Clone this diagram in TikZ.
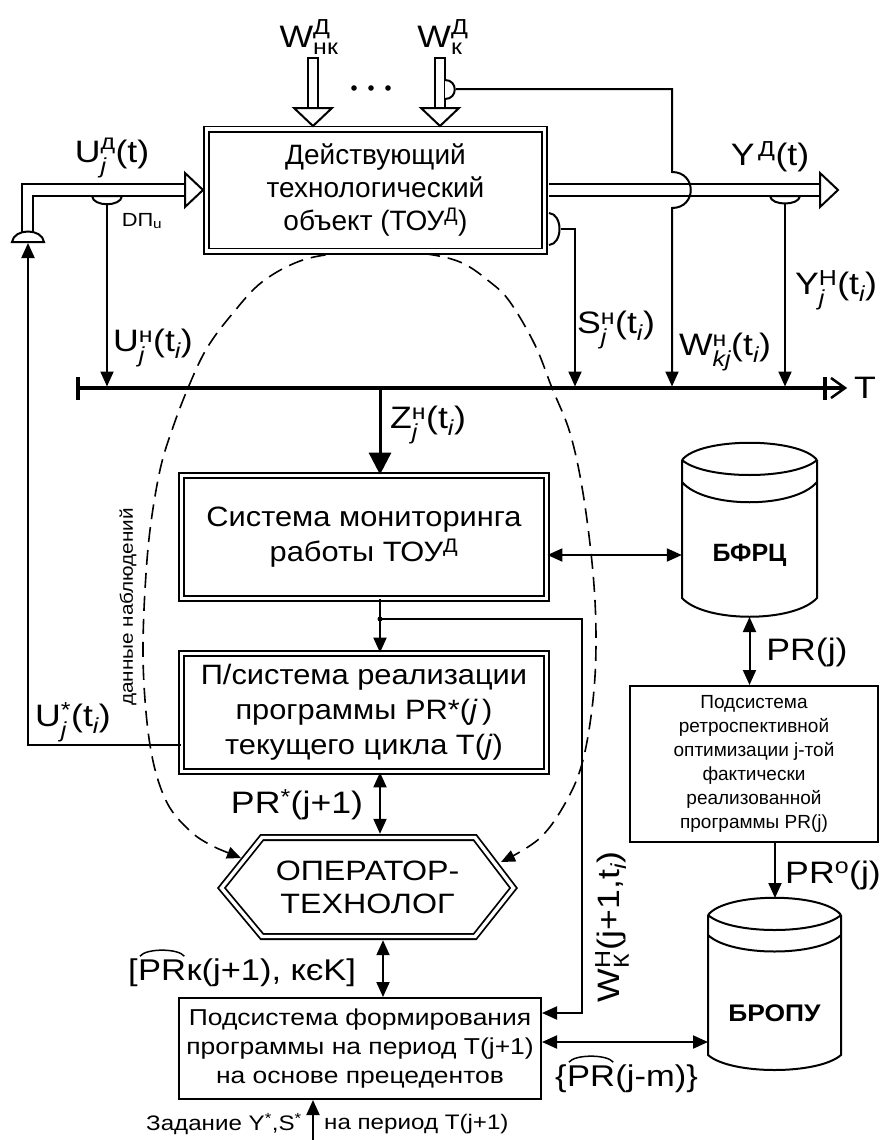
\documentclass[tikz,border=0pt]{standalone}
\usepackage{amsmath}
\usepackage{fontspec}
\setmainfont{Liberation Sans}
\newfontfamily\wA{Liberation Sans}[FakeStretch=1.1]
\newfontfamily\wB{Liberation Sans}[FakeStretch=1.15]
\usetikzlibrary{arrows.meta,calc}
\newcommand\fs[2]{\fontsize{#1}{#2}\selectfont}
\newcommand\SupSub[2]{\ensuremath{^{\text{#1}}_{\text{#2}}}}
\begin{document}
\begin{tikzpicture}[x=1pt,y=-1pt,
  dbox/.style={draw, double, double distance=3.4pt, line width=1.8pt, fill=white, align=center, inner sep=0pt, font=\wA\fs{28}{35}},
  sbox/.style={draw, line width=2pt, fill=white, align=center, inner sep=0pt},
  ln/.style={line width=2pt},
  arr/.style={ln, -{Triangle[length=15pt,width=13pt]}},
  darr/.style={ln, {Triangle[length=15pt,width=13pt]}-{Triangle[length=15pt,width=13pt]}},
  lbl/.style={inner sep=0pt, font=\wB\fs{31}{35}},
  slbl/.style={inner sep=0pt, font=\wB\fs{21}{24}},
  sens/.style={ln, fill=white},
  hatarc/.style={line width=1.5pt}
]
\useasboundingbox (0,0) rectangle (882,1140);

% ---- axis T
\coordinate (Ta) at (78,388);
\coordinate (Tb) at (845,388);
\draw[line width=3.5pt] (Ta) -- (843,388);
\draw[line width=4pt] (78,377) -- (78,400);
\draw[line width=3.5pt] (825,377) -- (825,400);
\draw[line width=2.5pt, line join=miter] (831,378) -- (Tb) -- (831,398);
\node[lbl] (lT) at (865,388) {T};

% ---- hexagon
\draw[double, double distance=3.4pt, line width=1.8pt, fill=white, line join=miter]
  (262,837.5) -- (475,837.5) -- (513.5,888) -- (475,936.5) -- (262,936.5) -- (221.5,888) -- cycle;
\node[font=\wB\fs{28}{33}, minimum height=106pt, minimum width=200pt, inner sep=0pt, align=center] (hex) at (367.5,887) {ОПЕРАТОР-\\ТЕХНОЛОГ};

% ---- dashed observation loop
\draw[line width=1.6pt, dash pattern=on 15pt off 8pt, {Triangle[length=14pt,width=12pt]}-{Triangle[length=14pt,width=12pt]}]
  plot[smooth, tension=0.6] coordinates {(241,858) (207,843) (188,829) (170,808) (158,780) (150,745) (145,700) (143,650) (145,590) (150,530) (160,470) (172,430) (188,388) (207,348) (233,313) (262,282) (300,261) (340,253) (378,251) (420,253) (460,262) (490,282) (510,302) (535,345) (552,388) (570,433) (583,493) (593,573) (596,640) (593,700) (583,760) (567,800) (540,838) (501,862)};

% ---- main object
\node[dbox, font=\fs{28}{33}, minimum width=338pt, minimum height=122pt] (obj) at (375.5,190) {Действующий\\технологический\\объект (ТОУ\textsuperscript{Д})};

% disturbance inputs
\draw[ln, fill=white] (308,109) -- (308,58) -- (318,58) -- (318,109);
\draw[ln, fill=white, line join=miter] (294,108) -- (332,108) -- (313,126) -- cycle;
\draw[ln, fill=white] (435,109) -- (435,58) -- (445,58) -- (445,109);
\draw[ln, fill=white, line join=miter] (421,108) -- (459,108) -- (440,126) -- cycle;
\node[lbl] (lWnk) at (309,37) {W\SupSub{Д}{нк}};
\node[lbl] (lWk) at (443,37) {W\SupSub{Д}{к}};
\fill (354,88) circle (2.8) (371,88) circle (2.8) (388,88) circle (2.8);

% W_k sensor and measurement line
\draw[sens] (445,80) .. controls (458,80) and (458,99) .. (445,99);
\coordinate (wks) at (456,89);
\coordinate (wkc) at (672,89);

% U input double line
\draw[ln] (22,233) -- (22,184) -- (186,184);
\draw[ln] (33,233) -- (33,196) -- (186,196);
\draw[ln, fill=white, line join=miter] (185,173) -- (203,190) -- (185,207) -- cycle;
\draw[sens] (12,242) .. controls (14,228) and (42,228) .. (44,242) -- cycle;
\coordinate (us) at (28,243);
\draw[sens] (92,196) .. controls (93,207) and (121,207) .. (122,196) -- cycle;
\coordinate (dpu) at (107,204);
\node[lbl] (lUd) at (112,158) {U\SupSub{д}{\itshape j}(t)};
\node[inner sep=0pt, font=\wB\fs{19}{22}] (ldp) at (142,221) {DП\textsubscript{u}};

% Y output double line
\draw[ln] (549,184) -- (821,184);
\draw[ln] (549,196) -- (821,196);
\draw[ln, fill=white, line join=miter] (820,173) -- (838,190) -- (820,207) -- cycle;
\draw[sens] (770,196) .. controls (771,206) and (799,206) .. (800,196) -- cycle;
\coordinate (ys) at (785,204);
\node[lbl] (lYd) at (770,157) {Y\textsuperscript{\,Д}(t)};

% W line with bridge over Y
\draw[arr, shorten >=1.5pt] (wks) -- (wkc) -- (672,172) .. controls (697,172) and (697,208) .. (672,208) -- (wkc |- Ta);

% S sensor
\draw[sens] (549,213) .. controls (563,214) and (563,244) .. (549,245);
\coordinate (ss) at (575,229);
\draw[arr, shorten >=1.5pt] (561,229) -- (ss) -- (ss |- Ta);

% arrows to axis
\draw[arr, shorten >=1.5pt] (dpu) -- (dpu |- Ta);
\draw[arr, shorten >=1.5pt] (ys) -- (ys |- Ta);

% axis labels
\node[lbl] (lUh) at (153,348) {U\SupSub{н}{\itshape j}(t\textsubscript{\itshape i})};
\node[lbl] (lSh) at (616,330) {S\SupSub{н}{\itshape j}(t\textsubscript{\itshape i})};
\node[lbl] (lWh) at (725,352) {W\SupSub{н}{\itshape kj}(t\textsubscript{\itshape i})};
\node[lbl] (lYh) at (836,290) {Y\SupSub{Н}{\itshape j}(t\textsubscript{\itshape i})};

% ---- monitoring
\coordinate (cx) at (380,0);
\coordinate (cx2) at (383,0);
\node[dbox, minimum width=365pt, minimum height=123pt] (mon) at (364,537) {Система мониторинга\\работы ТОУ\textsuperscript{Д}};
\draw[line width=3pt, -{Triangle[length=22pt,width=22pt]}] (cx |- Ta) -- (cx |- mon.north);
\node[lbl] (lZ) at (428,425) {Z\SupSub{н}{\itshape j}(t\textsubscript{\itshape i})};

% ---- realisation subsystem
\node[dbox, minimum width=365pt, minimum height=118pt] (real) at (364,712.5) {П/система реализации\\программы PR*(\textit{j}\,)\\текущего цикла T(\textit{j})};
\coordinate (jn) at (380,619);
\draw[arr] (cx |- mon.south) -- (cx |- real.north);
\fill (jn) circle (2.5);

% ---- databases
\draw[ln] (682,460) .. controls (700,437) and (799,437) .. (817,460)
          (682,460) .. controls (705,480) and (794,480) .. (817,460)
          (682,482) .. controls (705,509) and (794,509) .. (817,482)
          (682,460) -- (682,598) .. controls (705,623) and (794,623) .. (817,598) -- (817,460);
\node[font=\fs{25}{28}\bfseries, minimum width=135pt, inner sep=0pt] (bfrc) at (749.5,555) {БФРЦ};
\coordinate (bB) at (749.5,617);

\draw[ln] (708,915) .. controls (726,892) and (823,892) .. (841,915)
          (708,915) .. controls (731,935) and (818,935) .. (841,915)
          (708,935) .. controls (731,957) and (818,957) .. (841,935)
          (708,915) -- (708,1055) .. controls (731,1075) and (818,1075) .. (841,1055) -- (841,915);
\node[font=\wA\fs{24}{28}\bfseries, minimum width=133pt, inner sep=0pt] (bropu) at (774.5,1013) {БРОПУ};
\coordinate (bT) at (775,898);
\coordinate (bW) at (708,1042);

\draw[darr] (mon.east |- bfrc.west) -- (bfrc.west);

% ---- retrospective
\node[sbox, minimum width=248pt, minimum height=156pt, font=\fs{19}{24}] (retro) at (754,764)
  {Подсистема\\ретроспективной\\оптимизации j-той\\фактически\\реализованной\\программы PR(j)};
\draw[darr] (bB) -- (bB |- retro.north);
\node[lbl] (lPRj) at (807,652) {PR(j)};
\draw[arr] (bT |- retro.south) -- (bT);
\node[lbl] (lPRo) at (833,875) {PR\textsuperscript{o}(j)};

% ---- forming subsystem
\node[sbox, minimum width=362pt, minimum height=101pt, font=\wB\fs{23}{29}] (form) at (360,1048.5)
  {Подсистема формирования\\программы на период T(j+1)\\на основе прецедентов};
\draw[darr] (form.east |- bW) -- (bW);

% connections around operator
\draw[darr] (cx |- real.south) -- (cx |- hex.north);
\draw[darr] (cx2 |- hex.south) -- (cx2 |- form.north);
\node[lbl] (lPRs) at (297,805) {PR\textsuperscript{*}(j+1)};

\coordinate (wk) at (582,1013);
\draw[arr] (jn) -| (wk) -- (wk -| form.east);
\node[lbl, rotate=90] (lWkn) at (612,927) {W\SupSub{Н}{К}(j+1,t\textsubscript{\itshape i})};

% U* feedback
\coordinate (uy) at (0,745);
\draw[arr] (real.west |- uy) -| (us);
\node[lbl] (lUs) at (73,722) {U\SupSub{*}{\itshape j}(t\textsubscript{\itshape i})};
\node[inner sep=0pt, font=\wB\fs{18}{20}, rotate=90] (lobs) at (128,607) {данные наблюдений};

% [PR^ k(j+1), k in K]
\node[lbl, font=\wB\fs{30}{34}, anchor=base west] (pa1) at (128,980) {[};
\node[lbl, font=\wB\fs{30}{34}, anchor=base west] (pa2) at (pa1.base east) {PR};
\node[lbl, font=\wB\fs{30}{34}, anchor=base west] (pa3) at (pa2.base east) {к(j+1), кєK]};
\draw[hatarc] ($(pa2.north west)+(2,-3)$) .. controls +(6,-8) and +(-6,-8) .. ($(pa2.north east)+(-2,-3)$);

% {PR^(j-m)}
\node[lbl, font=\wB\fs{30}{34}, anchor=base west] (pb1) at (555,1086) {\{};
\node[lbl, font=\wB\fs{30}{34}, anchor=base west] (pb2) at (pb1.base east) {PR};
\node[lbl, font=\wB\fs{30}{34}, anchor=base west] (pb3) at (pb2.base east) {(j-m)\}};
\draw[hatarc] ($(pb2.north west)+(2,-3)$) .. controls +(6,-8) and +(-6,-8) .. ($(pb2.north east)+(-2,-3)$);

% task input
\coordinate (inp) at (313,1140);
\draw[arr] (inp) -- (inp |- form.south);
\node[slbl, anchor=east] (lz1) at (302,1124) {Задание Y\textsuperscript{*},S\textsuperscript{*}};
\node[slbl, anchor=west] (lz2) at (324,1124) {на период T(j+1)};
\end{tikzpicture}
\end{document}
